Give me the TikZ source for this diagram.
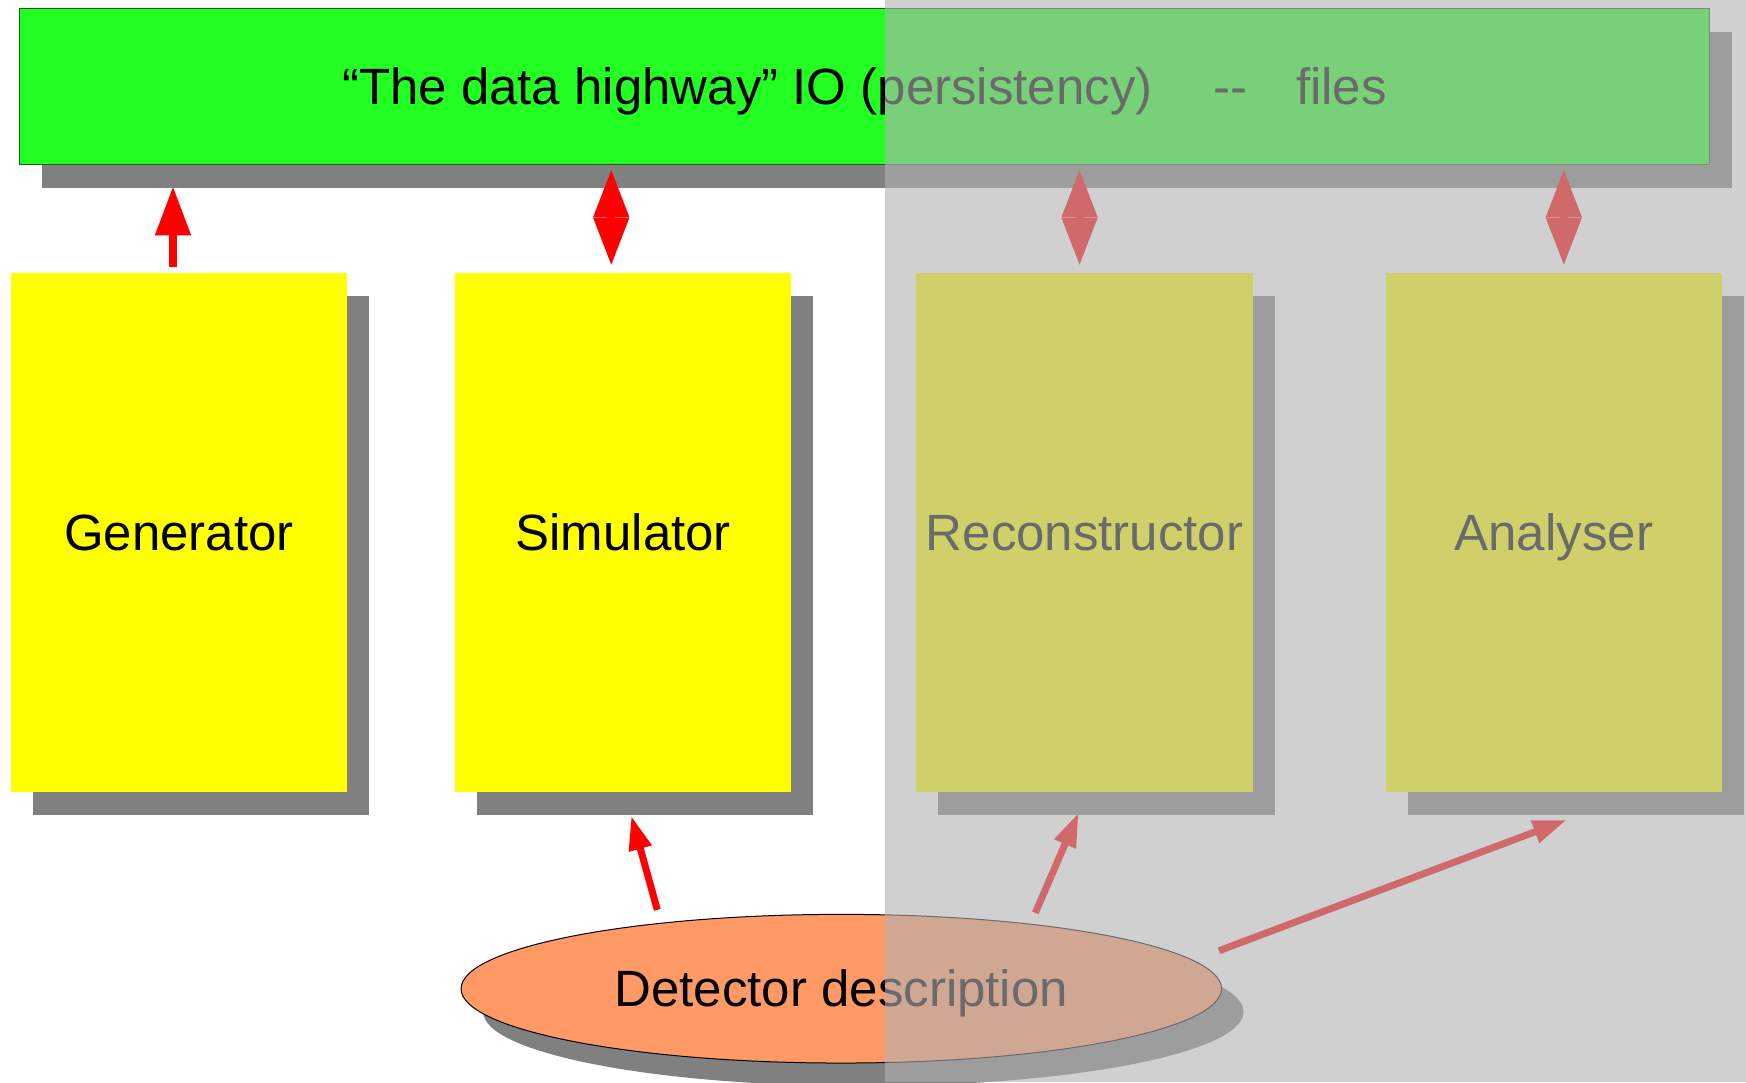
\documentclass[tikz,border=0pt]{standalone}
\usepackage{fontspec}
\setmainfont{Liberation Sans}
\usetikzlibrary{positioning,shapes.geometric,shadows,arrows.meta,calc}

\definecolor{iogreen}{RGB}{35,255,35}
\definecolor{ioline}{RGB}{25,95,25}
\definecolor{stageyellow}{RGB}{255,255,0}
\definecolor{detorange}{RGB}{255,153,102}
\definecolor{shadowgray}{RGB}{128,128,128}
\definecolor{veil}{RGB}{177,177,177}

\tikzset{
  boxshadow/.style={drop shadow={shadow xshift=0.22cm, shadow yshift=-0.23cm, fill=shadowgray, opacity=1}},
  caps/.style={text height=0.365cm, text depth=0pt},
  highway/.style={rectangle, fill=iogreen, draw=ioline, line width=0.012cm, minimum width=16.89cm, minimum height=1.56cm, inner sep=0pt, caps, boxshadow},
  stage/.style={rectangle, fill=stageyellow, minimum width=3.36cm, minimum height=5.19cm, inner sep=0pt, outer sep=0pt, caps, boxshadow},
  detbox/.style={ellipse, fill=detorange, draw=black, line width=0.01cm, minimum width=7.6cm, minimum height=1.486cm, inner sep=0pt, caps, boxshadow},
  upar/.style={red, line width=0.08cm, -{Triangle[length=0.49cm, width=0.34cm]}},
  bothar/.style={red, line width=0.08cm, {Triangle[length=0.48cm, width=0.34cm]}-{Triangle[length=0.48cm, width=0.34cm]}},
  detar/.style={red, line width=0.07cm, -{Triangle[length=0.34cm, width=0.22cm]}}
}

\begin{document}
\begin{tikzpicture}[x=0.01cm, y=-0.01cm, font=\fontsize{14.5pt}{17pt}\selectfont]
  \useasboundingbox (0,0) rectangle (1746,1082);

  \node (io) [highway] at (864.5,86.7) {“The data highway” IO (persistency)\hspace{1.2em}-\kern0pt-\hspace{0.95em}files};

  \node (gen) [stage] at (179,532.2) {Generator};
  \node (sim) [stage, right=1.08cm of gen] {Simulator};
  \node (rec) [stage, right=1.25cm of sim] {Reconstructor};
  \node (ana) [stage, right=1.33cm of rec] {Analyser};

  \node (det) [detbox] at (841.3,988.7) {Detector description};

  \draw[upar] ($(gen.north)+(-6,-6)$) -- ($(gen.north |- io.south)+(-6,21)$);
  \draw[bothar] ($(sim.north |- io.south)+(-12,4)$) -- ($(sim.north)+(-12,-7)$);
  \draw[bothar] ($(rec.north |- io.south)+(-5,4)$) -- ($(rec.north)+(-5,-7)$);
  \draw[bothar] ($(ana.north |- io.south)+(10,4)$) -- ($(ana.north)+(10,-7)$);

  \draw[detar] ($(det.north)+(-184,-4)$) -- ($(sim.south)+(8,24)$);
  \draw[detar] ($(det.north)+(194,-1)$) -- ($(rec.south)+(-6,21)$);
  \draw[detar] ($(det.east)+(-3,-38)$) -- ($(ana.south)+(13,28)$);

  \fill[veil, opacity=0.6] (885,0) rectangle (1746,1082);
\end{tikzpicture}
\end{document}
